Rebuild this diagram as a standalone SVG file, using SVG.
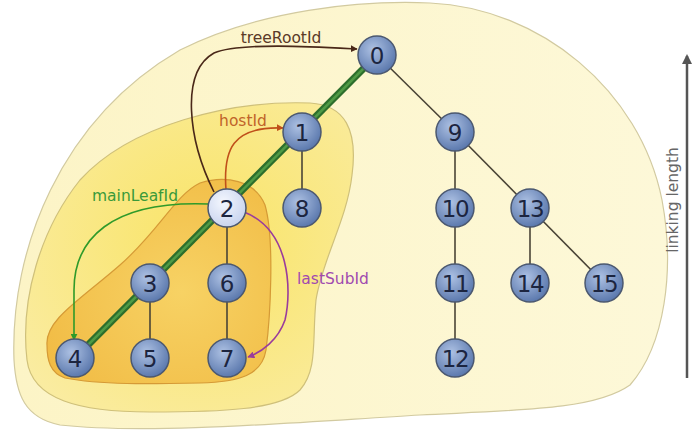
<svg xmlns="http://www.w3.org/2000/svg" width="692" height="434" viewBox="0 0 692 434">
<style>
.edge{stroke:#4a4436;stroke-width:1.6;fill:none}
.node circle{fill:url(#nodeGrad);stroke:#4b5870;stroke-width:1.5}
.node text{font-family:"DejaVu Sans",Verdana,sans-serif;font-size:23px;fill:#1c2540;text-anchor:middle;dominant-baseline:central}
.lbl{font-family:"DejaVu Sans",Verdana,sans-serif;font-size:15.5px}
.arr{fill:none;stroke-width:1.6}
</style>
<defs>
<radialGradient id="nodeGrad" cx="0.4" cy="0.35" r="0.7">
<stop offset="0" stop-color="#adc1e3"/>
<stop offset="1" stop-color="#5674aa"/>
</radialGradient>
<radialGradient id="node2Grad" cx="0.4" cy="0.35" r="0.7">
<stop offset="0" stop-color="#f4f7fe"/>
<stop offset="1" stop-color="#c6d2ee"/>
</radialGradient>
<linearGradient id="outerGrad" x1="0" y1="0" x2="1" y2="0">
<stop offset="0" stop-color="#fcf4c6"/>
<stop offset="1" stop-color="#fdf8d8"/>
</linearGradient>
<radialGradient id="midGrad" cx="0.55" cy="0.45" r="0.7">
<stop offset="0" stop-color="#f9e466"/>
<stop offset="1" stop-color="#faeca2"/>
</radialGradient>
<radialGradient id="innerGrad" cx="0.6" cy="0.55" r="0.7">
<stop offset="0" stop-color="#f7d264"/>
<stop offset="1" stop-color="#f1bb44"/>
</radialGradient>
<marker id="mBrown" viewBox="0 0 10 10" refX="9" refY="5" markerWidth="7" markerHeight="7" orient="auto" markerUnits="userSpaceOnUse"><path d="M0,0 L10,5 L0,10 Z" fill="#4a2818"/></marker>
<marker id="mOrange" viewBox="0 0 10 10" refX="9" refY="5" markerWidth="7" markerHeight="7" orient="auto" markerUnits="userSpaceOnUse"><path d="M0,0 L10,5 L0,10 Z" fill="#c0501a"/></marker>
<marker id="mGreen" viewBox="0 0 10 10" refX="9" refY="5" markerWidth="7" markerHeight="7" orient="auto" markerUnits="userSpaceOnUse"><path d="M0,0 L10,5 L0,10 Z" fill="#2f9a2a"/></marker>
<marker id="mPurple" viewBox="0 0 10 10" refX="9" refY="5" markerWidth="7" markerHeight="7" orient="auto" markerUnits="userSpaceOnUse"><path d="M0,0 L10,5 L0,10 Z" fill="#9a3c9c"/></marker>
<marker id="mGray" viewBox="0 0 10 10" refX="8" refY="5" markerWidth="10" markerHeight="12" orient="auto" markerUnits="userSpaceOnUse"><path d="M0,0 L10,5 L0,10 Z" fill="#555"/></marker>
</defs>

<g id="regions">
<path id="outer" d="M14,360 C10,250 60,120 180,50 C260,10 360,0 430,3 C540,8 640,90 662,200 C675,270 665,345 630,385 C595,410 520,410 420,415 C300,422 150,435 60,425 C25,418 16,395 14,360 Z" fill="url(#outerGrad)" stroke="#d2caa0" stroke-width="1.2"/>
<path id="mid" d="M27,360 C20,300 40,230 80,180 C130,125 230,100 310,103 C345,105 358,130 352,175 C347,220 322,260 316,300 C312,340 318,370 300,390 C280,410 220,412 150,412 C80,412 32,400 27,360 Z" fill="url(#midGrad)" stroke="#cfc07a" stroke-width="1.2"/>
<path id="inner" d="M47,345 C45,320 80,300 120,265 C160,230 175,195 200,183 C225,175 255,180 265,205 C275,240 270,320 266,350 C262,375 240,382 200,383 C150,384 100,385 65,378 C50,373 47,360 47,345 Z" fill="url(#innerGrad)" stroke="#d59a36" stroke-width="1.2"/>
</g>

<g id="connectors">
<line class="edge" x1="377" y1="55" x2="455" y2="132"/>
<line class="edge" x1="302" y1="132" x2="302" y2="208"/>
<line class="edge" x1="227" y1="208" x2="227" y2="283"/>
<line class="edge" x1="227" y1="283" x2="227" y2="358"/>
<line class="edge" x1="150" y1="283" x2="150" y2="358"/>
<line class="edge" x1="455" y1="132" x2="455" y2="208"/>
<line class="edge" x1="455" y1="208" x2="455" y2="283"/>
<line class="edge" x1="455" y1="283" x2="455" y2="358"/>
<line class="edge" x1="455" y1="132" x2="530" y2="208"/>
<line class="edge" x1="530" y1="208" x2="530" y2="283"/>
<line class="edge" x1="530" y1="208" x2="604" y2="283"/>
<line x1="377" y1="55" x2="75" y2="358" stroke="#2c6e2c" stroke-width="7"/>
<line x1="377" y1="55" x2="75" y2="358" stroke="#4f9a45" stroke-width="2.5"/>
<path class="arr" d="M214,192 C188,140 180,72 214,53 C240,42 320,47 357,49" stroke="#4a2818" marker-end="url(#mBrown)"/>
<path class="arr" d="M226,190 C223,150 232,126 283,128" stroke="#c0501a" marker-end="url(#mOrange)"/>
<path class="arr" d="M209,204 C110,200 74,240 74,290 L74,340" stroke="#2f9a2a" marker-end="url(#mGreen)"/>
<path class="arr" d="M244,212 C290,230 292,290 285,320 C278,340 262,352 248,357" stroke="#9a3c9c" marker-end="url(#mPurple)"/>
<line x1="687" y1="378" x2="687" y2="56" stroke="#555" stroke-width="2.5" marker-end="url(#mGray)"/>
</g>

<g id="labels">
<text class="lbl" x="281" y="43" text-anchor="middle" fill="#5a3a28">treeRootId</text>
<text class="lbl" x="243" y="126" text-anchor="middle" fill="#c0642a">hostId</text>
<text class="lbl" x="135" y="201" text-anchor="middle" fill="#3a9a3a">mainLeafId</text>
<text class="lbl" x="333" y="284" text-anchor="middle" fill="#a04ab0">lastSubId</text>
<text class="lbl" x="0" y="0" text-anchor="middle" fill="#666" font-size="16" transform="translate(678,200) rotate(-90)">linking length</text>
</g>

<g id="n0" class="node"><circle cx="377" cy="55" r="19"/><text x="377" y="56">0</text></g>
<g id="n1" class="node"><circle cx="302" cy="132" r="19"/><text x="302" y="133">1</text></g>
<g id="n2" class="node"><circle cx="227" cy="208" r="19" style="fill:url(#node2Grad)"/><text x="227" y="209">2</text></g>
<g id="n3" class="node"><circle cx="150" cy="283" r="19"/><text x="150" y="284">3</text></g>
<g id="n4" class="node"><circle cx="75" cy="358" r="19"/><text x="75" y="359">4</text></g>
<g id="n5" class="node"><circle cx="150" cy="358" r="19"/><text x="150" y="359">5</text></g>
<g id="n6" class="node"><circle cx="227" cy="283" r="19"/><text x="227" y="284">6</text></g>
<g id="n7" class="node"><circle cx="227" cy="358" r="19"/><text x="227" y="359">7</text></g>
<g id="n8" class="node"><circle cx="302" cy="208" r="19"/><text x="302" y="209">8</text></g>
<g id="n9" class="node"><circle cx="455" cy="132" r="19"/><text x="455" y="133">9</text></g>
<g id="n10" class="node"><circle cx="455" cy="208" r="19"/><text x="455" y="209" style="letter-spacing:-1.5px">10</text></g>
<g id="n11" class="node"><circle cx="455" cy="283" r="19"/><text x="455" y="284" style="letter-spacing:-1.5px">11</text></g>
<g id="n12" class="node"><circle cx="455" cy="358" r="19"/><text x="455" y="359" style="letter-spacing:-1.5px">12</text></g>
<g id="n13" class="node"><circle cx="530" cy="208" r="19"/><text x="530" y="209" style="letter-spacing:-1.5px">13</text></g>
<g id="n14" class="node"><circle cx="530" cy="283" r="19"/><text x="530" y="284" style="letter-spacing:-1.5px">14</text></g>
<g id="n15" class="node"><circle cx="604" cy="283" r="19"/><text x="604" y="284" style="letter-spacing:-1.5px">15</text></g>
</svg>
